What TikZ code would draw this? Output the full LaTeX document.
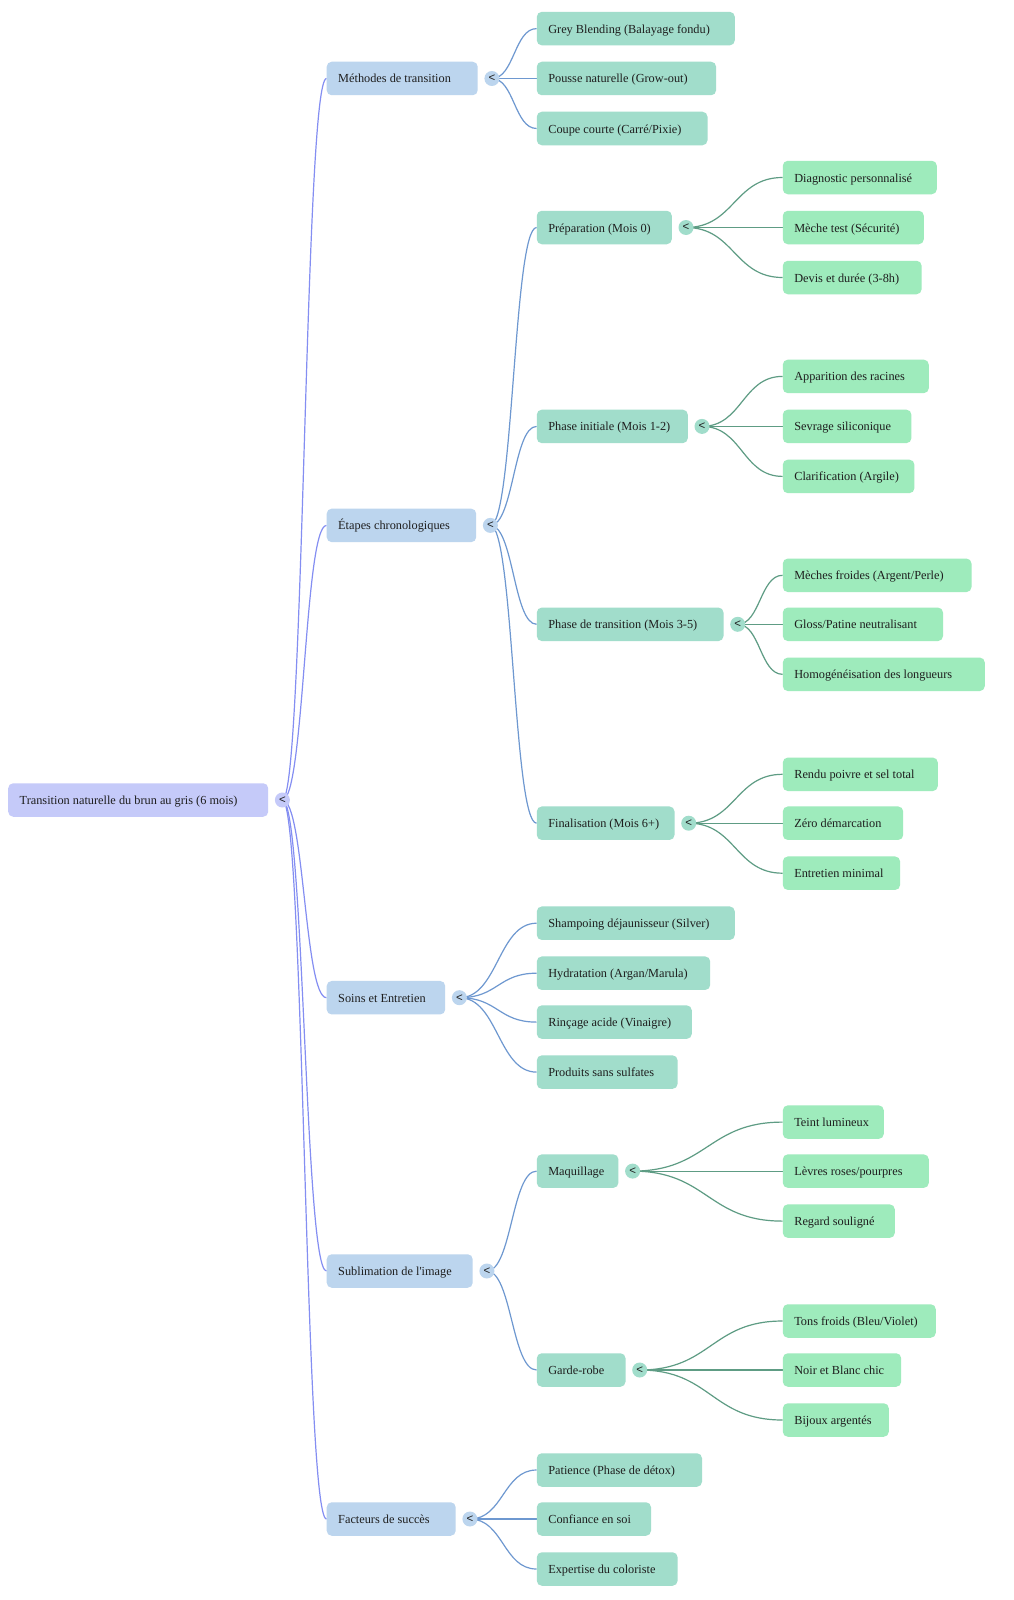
\documentclass[tikz,border=0pt]{standalone}
\usepackage{fontspec}
\setmainfont{Liberation Serif}
\setsansfont{Liberation Sans}
\usetikzlibrary{calc}
\definecolor{rootfill}{RGB}{197,202,249}
\definecolor{lonefill}{RGB}{188,213,238}
\definecolor{ltwofill}{RGB}{161,221,203}
\definecolor{lthreefill}{RGB}{158,235,188}
\definecolor{rootline}{RGB}{132,142,242}
\definecolor{loneline}{RGB}{110,152,208}
\definecolor{ltwoline}{RGB}{94,156,132}
\definecolor{txt}{RGB}{30,30,30}
\pgfdeclarelayer{bg}
\pgfdeclarelayer{paper}
\pgfsetlayers{paper,bg,main}
\newcommand\bx[2]{\makebox[#1pt][l]{#2}}
\newcommand\conn[3]{\begin{pgfonlayer}{bg}\draw[#3] let \p1=(#1.center), \p2=(#2.west) in (\p1) .. controls ({0.5*\x1+0.5*\x2},\y1) and ({0.5*\x1+0.5*\x2},\y2) .. (\p2);\end{pgfonlayer}}
\tikzset{
  nbox/.style={rounded corners=5pt, anchor=west, minimum height=33.5pt, inner xsep=11.5pt, inner ysep=0pt, text height=10.5pt, text depth=1.5pt, text=txt, font=\fontsize{12.3}{14}\selectfont},
  nroot/.style={nbox, fill=rootfill},
  nlone/.style={nbox, fill=lonefill},
  nltwo/.style={nbox, fill=ltwofill},
  nlthree/.style={nbox, fill=lthreefill},
  ncirc/.style={circle, minimum size=15pt, inner sep=0pt, text=txt, font=\sffamily\fontsize{11.5}{11.5}\selectfont},
  eroot/.style={draw=rootline, line width=1.2pt},
  elone/.style={draw=loneline, line width=1.2pt},
  eltwo/.style={draw=ltwoline, line width=1.2pt}
}
\begin{document}
\begin{tikzpicture}[x=1pt,y=-1pt]
\begin{pgfonlayer}{paper}
\fill[white] (0,0) rectangle (1014,1600);
\end{pgfonlayer}
\useasboundingbox (0,0) rectangle (1014,1600);
% root
\node[nroot] (r) at (8,800) {\bx{237}{Transition naturelle du brun au gris (6 mois)}};
\node[ncirc, fill=rootfill] (cr) at ($(r.east)+(14,0)$) {<};
% level 1
\node[nlone] (m) at (326.5,78.5) {\bx{128}{Méthodes de transition}};
\node[nlone] (e) at (326.5,525.4) {\bx{126.5}{Étapes chronologiques}};
\node[nlone] (s) at (326.5,997.7) {\bx{95.5}{Soins et Entretien}};
\node[nlone] (u) at (326.5,1271) {\bx{123}{Sublimation de l\textquotesingle image}};
\node[nlone] (f) at (326.5,1519) {\bx{106}{Facteurs de succès}};
\foreach \n in {m,e,s,u,f}{\node[ncirc, fill=lonefill] (c\n) at ($(\n.east)+(14,0)$) {<};}
% level 2
\node[nltwo] (m1) at (536.6,28.6) {\bx{175}{Grey Blending (Balayage fondu)}};
\node[nltwo] (m2) at (536.6,78.5) {\bx{156.3}{Pousse naturelle (Grow-out)}};
\node[nltwo] (m3) at (536.6,128.5) {\bx{147.7}{Coupe courte (Carré/Pixie)}};
\node[nltwo] (e1) at (536.6,227.5) {\bx{112}{Préparation (Mois 0)}};
\node[nltwo] (e2) at (536.6,426.4) {\bx{128}{Phase initiale (Mois 1-2)}};
\node[nltwo] (e3) at (536.6,624.3) {\bx{163.7}{Phase de transition (Mois 3-5)}};
\node[nltwo] (e4) at (536.6,823.2) {\bx{114.7}{Finalisation (Mois 6+)}};
\node[nltwo] (s1) at (536.6,923.2) {\bx{175}{Shampoing déjaunisseur (Silver)}};
\node[nltwo] (s2) at (536.6,973.2) {\bx{150.4}{Hydratation (Argan/Marula)}};
\node[nltwo] (s3) at (536.6,1022.1) {\bx{132}{Rinçage acide (Vinaigre)}};
\node[nltwo] (s4) at (536.6,1072.1) {\bx{117.8}{Produits sans sulfates}};
\node[nltwo] (u1) at (536.6,1171.1) {\bx{58.6}{Maquillage}};
\node[nltwo] (u2) at (536.6,1370) {\bx{65.7}{Garde-robe}};
\node[nltwo] (f1) at (536.6,1470) {\bx{142.2}{Patience (Phase de détox)}};
\node[nltwo] (f2) at (536.6,1519) {\bx{91.2}{Confiance en soi}};
\node[nltwo] (f3) at (536.6,1569) {\bx{117.8}{Expertise du coloriste}};
\foreach \n in {e1,e2,e3,e4,u1,u2}{\node[ncirc, fill=ltwofill] (c\n) at ($(\n.east)+(14,0)$) {<};}
% level 3
\node[nlthree] (e1a) at (782.6,177.5) {\bx{131}{Diagnostic personnalisé}};
\node[nlthree] (e1b) at (782.6,227.5) {\bx{118}{Mèche test (Sécurité)}};
\node[nlthree] (e1c) at (782.6,277.5) {\bx{115.8}{Devis et durée (3-8h)}};
\node[nlthree] (e2a) at (782.6,376.4) {\bx{123}{Apparition des racines}};
\node[nlthree] (e2b) at (782.6,426.4) {\bx{105.6}{Sevrage siliconique}};
\node[nlthree] (e2c) at (782.6,476.4) {\bx{108.6}{Clarification (Argile)}};
\node[nlthree] (e3a) at (782.6,575.3) {\bx{165.7}{Mèches froides (Argent/Perle)}};
\node[nlthree] (e3b) at (782.6,624.3) {\bx{137.2}{Gloss/Patine neutralisant}};
\node[nlthree] (e3c) at (782.6,674.3) {\bx{179}{Homogénéisation des longueurs}};
\node[nlthree] (e4a) at (782.6,774.3) {\bx{132}{Rendu poivre et sel total}};
\node[nlthree] (e4b) at (782.6,823.2) {\bx{97.4}{Zéro démarcation}};
\node[nlthree] (e4c) at (782.6,873.2) {\bx{94.3}{Entretien minimal}};
\node[nlthree] (u1a) at (782.6,1122.1) {\bx{78}{Teint lumineux}};
\node[nlthree] (u1b) at (782.6,1171.1) {\bx{123}{Lèvres roses/pourpres}};
\node[nlthree] (u1c) at (782.6,1221.1) {\bx{89}{Regard souligné}};
\node[nlthree] (u2a) at (782.6,1321) {\bx{130}{Tons froids (Bleu/Violet)}};
\node[nlthree] (u2b) at (782.6,1370) {\bx{95.4}{Noir et Blanc chic}};
\node[nlthree] (u2c) at (782.6,1420) {\bx{83}{Bijoux argentés}};
% connectors
\foreach \t in {m,e,s,u,f}{\conn{cr}{\t}{eroot}}
\foreach \t in {m1,m2,m3}{\conn{cm}{\t}{elone}}
\foreach \t in {e1,e2,e3,e4}{\conn{ce}{\t}{elone}}
\foreach \t in {s1,s2,s3,s4}{\conn{cs}{\t}{elone}}
\foreach \t in {u1,u2}{\conn{cu}{\t}{elone}}
\foreach \t in {f1,f2,f3}{\conn{cf}{\t}{elone}}
\foreach \t in {e1a,e1b,e1c}{\conn{ce1}{\t}{eltwo}}
\foreach \t in {e2a,e2b,e2c}{\conn{ce2}{\t}{eltwo}}
\foreach \t in {e3a,e3b,e3c}{\conn{ce3}{\t}{eltwo}}
\foreach \t in {e4a,e4b,e4c}{\conn{ce4}{\t}{eltwo}}
\foreach \t in {u1a,u1b,u1c}{\conn{cu1}{\t}{eltwo}}
\foreach \t in {u2a,u2b,u2c}{\conn{cu2}{\t}{eltwo}}
\end{tikzpicture}
\end{document}
